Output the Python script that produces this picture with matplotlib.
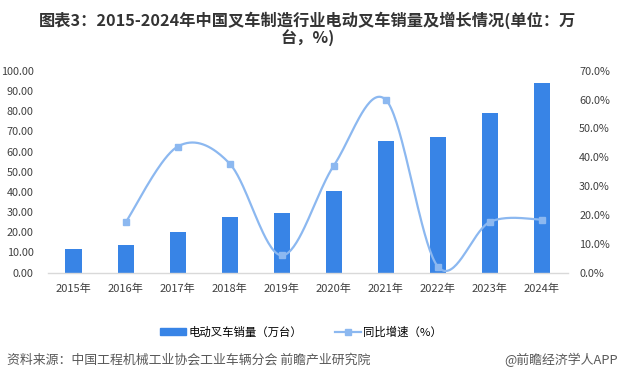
import matplotlib
matplotlib.use("Agg")
import matplotlib.pyplot as plt
import numpy as np
from matplotlib.lines import Line2D
from matplotlib.patches import Patch

plt.rcParams['font.family'] = ['Noto Sans CJK SC', 'DejaVu Sans']

years = ["2015年", "2016年", "2017年", "2018年", "2019年", "2020年", "2021年", "2022年", "2023年", "2024年"]
sales = [11.7, 13.7, 20.1, 27.5, 29.5, 40.4, 65.0, 67.0, 79.3, 94.1]
growth_years_idx = [1, 2, 3, 4, 5, 6, 7, 8, 9]
growth = [17.4, 43.7, 37.8, 6.0, 37.1, 59.9, 2.1, 17.6, 18.4]
left_ticks = [0, 10, 20, 30, 40, 50, 60, 70, 80, 90, 100]
right_ticks = [0, 10, 20, 30, 40, 50, 60, 70]

bar_color = "#3884E6"
line_color = "#8CB8F0"

fig = plt.figure(figsize=(6.18, 3.80), dpi=100)
ax = fig.add_axes([47.5/618, 1-272.7/380, (568-47.5)/618, (272.7-70.7)/380])
ax2 = ax.twinx()

x = np.arange(len(years))
ax.bar(x, sales, width=0.31, color=bar_color, zorder=2)
ax.set_xlim(-0.5, len(years)-0.5)
ax.set_ylim(0, 100)
ax.set_yticks(left_ticks)
ax.set_yticklabels([f"{v:.2f}" for v in left_ticks], fontsize=7.8, color="#404040")
ax.set_xticks(x)
ax.set_xticklabels(years, fontsize=8, color="#404040")
ax.tick_params(axis='both', length=0, pad=8)
ax.tick_params(axis='y', pad=10)
for s in ["top", "right", "left"]:
    ax.spines[s].set_visible(False)
ax.spines["bottom"].set_color("#D9D9D9")
ax.spines["bottom"].set_linewidth(1.0)

# Smooth line (Bezier, Excel-like smoothing)
gx = np.array(growth_years_idx, dtype=float)
gy = np.array(growth, dtype=float)
px = np.concatenate([[gx[0]], gx, [gx[-1]]])
py = np.concatenate([[gy[0]], gy, [gy[-1]]])
cx, cy = [], []
t = np.linspace(0, 1, 40)
for i in range(len(gx)-1):
    p0 = np.array([px[i+1], py[i+1]])
    p3 = np.array([px[i+2], py[i+2]])
    pm = np.array([px[i], py[i]])
    pn = np.array([px[i+3], py[i+3]])
    p1 = p0 + (p3 - pm)/6
    p2 = p3 - (pn - p0)/6
    b = ((1-t)**3)[:, None]*p0 + (3*(1-t)**2*t)[:, None]*p1 + (3*(1-t)*t**2)[:, None]*p2 + (t**3)[:, None]*p3
    cx.extend(b[:, 0]); cy.extend(b[:, 1])
ax2.plot(cx, cy, color=line_color, lw=1.6, zorder=3, solid_capstyle='round')
ax2.plot(gx, gy, ls='none', marker='s', ms=5, color=line_color, zorder=4)
ax2.set_ylim(0, 70)
ax2.set_yticks(right_ticks)
ax2.set_yticklabels([f"{v:.1f}%" for v in right_ticks], fontsize=7.8, color="#404040")
ax2.tick_params(axis='y', length=0, pad=8)
for s in ["top", "right", "left", "bottom"]:
    ax2.spines[s].set_visible(False)

# Title
fig.text(308/618, 1-20.5/380, "图表3：2015-2024年中国叉车制造行业电动叉车销量及增长情况(单位：万", ha='center', va='center',
         fontsize=11.7, fontweight='bold', color="#333333")
fig.text(308/618, 1-38/380, "台，%)", ha='center', va='center', fontsize=11.7, fontweight='bold', color="#333333")

# Legend
handles = [Patch(color=bar_color), Line2D([0], [0], color=line_color, lw=1.6, marker='s', ms=5)]
fig.legend(handles, ["电动叉车销量（万台）", "同比增速（%）"], loc='center', bbox_to_anchor=(301/618, 1-332/380),
           ncol=2, frameon=False, fontsize=8.2, handlelength=2.3, handleheight=0.6, columnspacing=2.9,
           handletextpad=0.15)

# Source
fig.text(7/618, 1-360/380, "资料来源：中国工程机械工业协会工业车辆分会 前瞻产业研究院", ha='left', va='center',
         fontsize=9.3, color="#595959")
fig.text(1.0, 1-360/380, "@前瞻经济学人APP", ha='right', va='center', fontsize=9.3, color="#595959")

fig.savefig("out.png", dpi=100)
